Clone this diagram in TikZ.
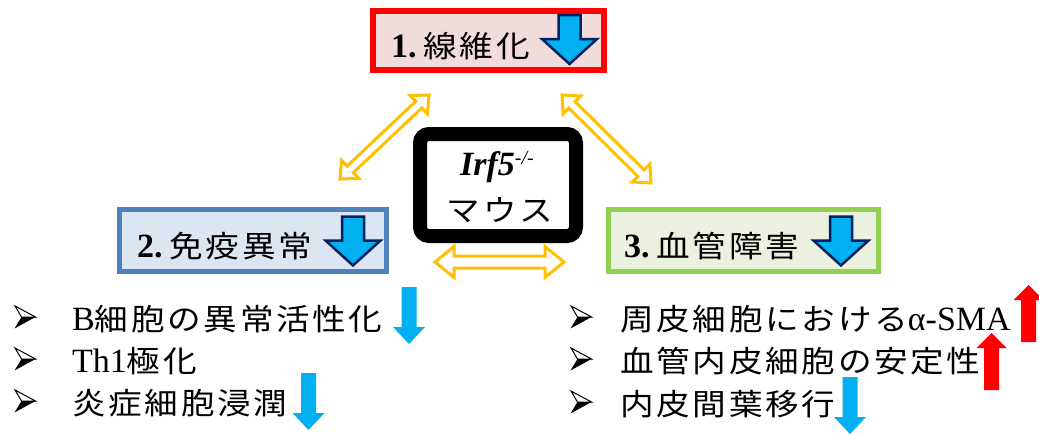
\documentclass[tikz,border=0pt]{standalone}
\usepackage{fontspec}
\setmainfont{Liberation Serif}
\newfontfamily\jp[FakeStretch=1.12,LetterSpace=9]{Noto Sans CJK JP}
\usetikzlibrary{calc}
\definecolor{boxred}{HTML}{FF0000}
\definecolor{fillred}{HTML}{F2DCDB}
\definecolor{boxblue}{HTML}{4F81BD}
\definecolor{fillblue}{HTML}{DCE6F2}
\definecolor{boxgreen}{HTML}{92D050}
\definecolor{fillgreen}{HTML}{EBF1DE}
\definecolor{orangeA}{HTML}{FFC000}
\definecolor{navyA}{HTML}{002060}
\definecolor{cyanA}{HTML}{00B0F0}
\definecolor{redA}{HTML}{FF0000}
\newcommand\dblblock[5]{%
  \path let \p1=(#1), \p2=(#2) in
    \pgfextra{\pgfmathsetmacro\dbang{atan2(\y2-\y1,\x2-\x1)}%
      \pgfmathsetmacro\dblen{veclen(\x2-\x1,\y2-\y1)}%
      \global\let\dbangG\dbang\global\let\dblenG\dblen};
  \begin{scope}[shift={(#1)}, rotate=\dbangG]
    \draw[dblarrow] (0,0) -- (#5,#4) -- (#5,#3) -- (\dblenG-#5,#3) -- (\dblenG-#5,#4)
      -- (\dblenG,0) -- (\dblenG-#5,-#4) -- (\dblenG-#5,-#3) -- (#5,-#3) -- (#5,-#4) -- cycle;
  \end{scope}}
\begin{document}
\begin{tikzpicture}[x=1pt,y=-1pt,
  hdrbox/.style={rectangle, inner sep=0pt},
  hdrtext/.style={anchor=base west, inner sep=0pt, font=\fontsize{34}{38}\selectfont},
  listtext/.style={anchor=base west, inner sep=0pt, font=\fontsize{34}{38}\selectfont},
  dblarrow/.style={draw=orangeA, fill=white, line width=3pt, line join=miter},
  bigdown/.pic={\draw[draw=navyA, fill=cyanA, line width=2.5pt, line join=miter]
     (-11,-25) -- (11,-25) -- (11,-1) -- (27.5,-1) -- (0,24) -- (-27.5,-1) -- (-11,-1) -- cycle;},
  smalldown/.pic={\fill[cyanA] (-7.5,0) -- (7.5,0) -- (7.5,40) -- (16,40) -- (0,57) -- (-16,40) -- (-7.5,40) -- cycle;},
  smallup/.pic={\fill[redA] (-7.5,0) -- (7.5,0) -- (7.5,-42) -- (15,-42) -- (0,-57) -- (-15,-42) -- (-7.5,-42) -- cycle;},
  bulletmark/.pic={\draw[black, line width=1pt, fill=white, line join=miter] (-10,-11) -- (10.5,0) -- (-3.5,0) -- cycle;
     \fill[black] (-3.5,0) -- (10.5,0) -- (-10.5,11.5) -- cycle;}
]
\newcommand\J[1]{{\jp\fontsize{30}{34}\selectfont #1}}
\useasboundingbox (0,0) rectangle (1039,434);
\fill[white] (0,0) rectangle (1039,434);

% header boxes
\node[hdrbox, draw=boxred, fill=fillred, line width=6pt, minimum width=231pt, minimum height=59pt] (b1) at (488.5,40.5) {};
\node[hdrbox, draw=boxblue, fill=fillblue, line width=5pt, minimum width=267pt, minimum height=62pt] (b2) at (253,240.5) {};
\node[hdrbox, draw=boxgreen, fill=fillgreen, line width=5pt, minimum width=270pt, minimum height=62pt] (b3) at (743.5,240.5) {};

\node[hdrtext] (t1) at (391,57) {\textbf{1.}\hspace{7pt}\J{線維化}};
\node[hdrtext] (t2) at (137,257) {\textbf{2.}\hspace{7pt}\J{免疫異常}};
\node[hdrtext] (t3) at (624,257) {\textbf{3.}\hspace{7pt}\J{血管障害}};

\pic (a1) at (569.5,40) {bigdown};
\pic (a2) at (353,241.5) {bigdown};
\pic (a3) at (841,241.5) {bigdown};

% centre box
\node[draw=black, fill=white, line width=14pt, rounded corners=9pt, minimum width=156pt, minimum height=102pt, inner sep=0pt] (c) at (498,185) {};
\node[anchor=base, inner sep=0pt, font=\fontsize{34}{38}\selectfont] (ct1) at (497,175) {\textbf{\textit{Irf5}}\raisebox{11pt}{\fontsize{20}{22}\selectfont\textit{-/-}}};
\node[anchor=base, inner sep=0pt] (ct2) at (500,221) {\J{マウス}};

% double block arrows
\coordinate (la1) at (340,179);
\coordinate (la2) at (429,95);
\coordinate (ra1) at (562,95);
\coordinate (ra2) at (651,183);
\coordinate (ba1) at (435,262);
\coordinate (ba2) at (564,262);
\dblblock{la1}{la2}{4.5}{12.5}{14}
\dblblock{ra1}{ra2}{4.5}{12.5}{14}
\dblblock{ba1}{ba2}{6}{15.5}{19}

% left list
\pic (bl1) at (25,317) {bulletmark};
\pic (bl2) at (25,359) {bulletmark};
\pic (bl3) at (25,401) {bulletmark};
\node[listtext] (l1) at (72,330) {B\J{細胞の異常活性化}};
\node[listtext] (l2) at (72,372) {Th1\J{極化}};
\node[listtext] (l3) at (72,414) {\J{炎症細胞浸潤}};
\pic at (409,287) {smalldown};
\pic at (308.5,373) {smalldown};

% right list
\pic (br1) at (581,317) {bulletmark};
\pic (br2) at (581,359) {bulletmark};
\pic (br3) at (581,402) {bulletmark};
\node[listtext] (r1) at (620,330) {\J{周皮細胞における}α-SMA};
\node[listtext] (r2) at (620,372) {\J{血管内皮細胞の安定性}};
\node[listtext] (r3) at (620,415) {\J{内皮間葉移行}};
\pic at (1028.5,342) {smallup};
\pic at (991.5,390) {smallup};
\pic at (850,377) {smalldown};
\end{tikzpicture}
\end{document}
